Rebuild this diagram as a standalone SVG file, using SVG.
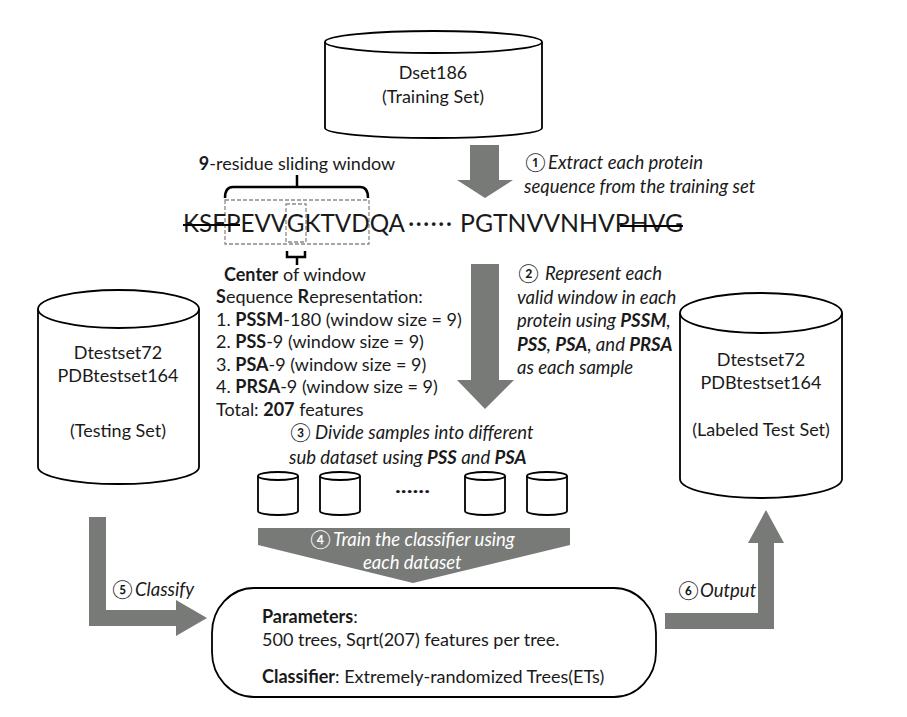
<svg xmlns="http://www.w3.org/2000/svg" width="907" height="717" viewBox="0 0 907 717">
<style>
.t{font-family:Lato,"Noto Sans CJK JP","DejaVu Sans",sans-serif;font-size:18px;fill:#1a1a1a}
.i{font-style:italic;font-size:18.5px}
.b{font-weight:bold}
.c{text-anchor:middle}
.w{fill:#ffffff}
.cyl{fill:#ffffff;stroke:#000;stroke-width:1.8}
.arr{fill:#787a77;stroke:none}
.dash{fill:none;stroke:#8a8a8a;stroke-width:1.3;stroke-dasharray:4 2}
.brk{fill:none;stroke:#000;stroke-width:2.5}
.seq{font-family:Lato,"DejaVu Sans",sans-serif;font-size:24.5px;fill:#1a1a1a}
</style>
<rect width="907" height="717" fill="#ffffff"/>

<g id="connectors">
<polygon class="arr" points="470,145 499,145 499,180 513,180 485,198 457,180 470,180"/>
<polygon class="arr" points="471,264 499,264 499,380 514,380 485,409 457,380 471,380"/>
<polygon class="arr" points="258,528 570,528 570,545 413,583 258,545"/>
<polygon class="arr" points="89,517 106,517 106,610 176,610 176,600 207,618 176,636 176,626 89,626"/>
<polygon class="arr" points="665,613 758,613 758,543 748,543 766,510 784,543 774,543 774,629 665,629"/>
<text class="t i"><tspan x="525" y="169">①</tspan><tspan x="548" y="169">Extract each protein</tspan><tspan x="524" y="193">sequence from the training set</tspan></text>
<text class="t i"><tspan x="518" y="280">②</tspan><tspan x="545" y="280">Represent each</tspan><tspan x="517" y="303.5">valid window in each</tspan><tspan x="517" y="327">protein using <tspan class="b">PSSM</tspan>,</tspan><tspan x="517" y="350.5"><tspan class="b">PSS</tspan>, <tspan class="b">PSA</tspan>, and <tspan class="b">PRSA</tspan></tspan><tspan x="517" y="374">as each sample</tspan></text>
<text class="t i"><tspan x="290" y="439">③</tspan><tspan x="315" y="439">Divide samples into different</tspan><tspan x="289" y="464">sub dataset using <tspan class="b">PSS</tspan> and <tspan class="b">PSA</tspan></tspan></text>
<text class="t i w"><tspan x="310" y="546">④</tspan><tspan x="333" y="546">Train the classifier using</tspan><tspan x="363" y="569">each dataset</tspan></text>
<text class="t i"><tspan x="112" y="596">⑤</tspan><tspan x="135" y="596">Classify</tspan></text>
<text class="t i"><tspan x="678" y="597">⑥</tspan><tspan x="700" y="597">Output</tspan></text>
</g>

<g id="training-set">
<path class="cyl" d="M325,42 V128 A108.5,10 0 0,0 542,128 V42"/>
<ellipse class="cyl" cx="433.5" cy="42" rx="108.5" ry="11"/>
<text class="t c" x="433" y="79">Dset186</text>
<text class="t c" x="433" y="103">(Training Set)</text>
</g>

<g id="sequence">
<text class="t c" x="297" y="170"><tspan class="b">9</tspan>-residue sliding window</text>
<path class="brk" d="M225,198 Q225,187 233,187 H360 Q368,187 368,198 M297,187 V175"/>
<rect class="dash" x="225" y="200" width="144" height="44"/>
<rect class="dash" x="286" y="204" width="20" height="38"/>
<text class="seq" x="183" y="232" textLength="222" lengthAdjust="spacingAndGlyphs">KSFPEVVGKTVDQA</text>
<text class="seq" x="408" y="232" textLength="44" lengthAdjust="spacing">······</text>
<text class="seq" x="460" y="232" textLength="223" lengthAdjust="spacingAndGlyphs">PGTNVVNHVPHVG</text>
<path d="M183,225 H240 M620,226 H683" stroke="#000" stroke-width="1.8"/>
<path class="brk" d="M287,251 V257 H305 V251 M297,257 V265"/>
<text class="t c" x="295" y="281"><tspan class="b">Center</tspan> of window</text>
</g>

<g id="representation">
<text class="t"><tspan x="216" y="303"><tspan class="b">S</tspan>equence <tspan class="b">R</tspan>epresentation:</tspan><tspan x="216" y="325.6">1. <tspan class="b">PSSM</tspan>-180 (window size = 9)</tspan><tspan x="216" y="348.2">2. <tspan class="b">PSS</tspan>-9 (window size = 9)</tspan><tspan x="216" y="370.8">3. <tspan class="b">PSA</tspan>-9 (window size = 9)</tspan><tspan x="216" y="393.4">4. <tspan class="b">PRSA</tspan>-9 (window size = 9)</tspan><tspan x="216" y="416">Total: <tspan class="b">207</tspan> features</tspan></text>
</g>

<g id="testing-set">
<path class="cyl" d="M38,309 V467 A80.5,17 0 0,0 199,467 V309"/>
<ellipse class="cyl" cx="118.5" cy="309" rx="80.5" ry="19"/>
<text class="t c" x="118" y="359">Dtestset72</text>
<text class="t c" x="118" y="381.5">PDBtestset164</text>
<text class="t c" x="118" y="437">(Testing Set)</text>
</g>

<g id="labeled-test-set">
<path class="cyl" d="M680,313 V479 A81,19 0 0,0 842,479 V313"/>
<ellipse class="cyl" cx="761" cy="313" rx="81" ry="20"/>
<text class="t c" x="761" y="366">Dtestset72</text>
<text class="t c" x="761" y="389">PDBtestset164</text>
<text class="t c" x="761" y="436">(Labeled Test Set)</text>
</g>

<g id="sub-datasets">
<g id="sub1"><path class="cyl" d="M258,476 V511 A20,4 0 0,0 298,511 V476"/><ellipse class="cyl" cx="278" cy="476" rx="20" ry="4"/></g>
<g id="sub2"><path class="cyl" d="M320,476 V511 A20,4 0 0,0 360,511 V476"/><ellipse class="cyl" cx="340" cy="476" rx="20" ry="4"/></g>
<text class="t b" x="395" y="493" textLength="35" lengthAdjust="spacingAndGlyphs">......</text>
<g id="sub3"><path class="cyl" d="M465,476 V511 A20,4 0 0,0 505,511 V476"/><ellipse class="cyl" cx="485" cy="476" rx="20" ry="4"/></g>
<g id="sub4"><path class="cyl" d="M527,476 V511 A20,4 0 0,0 567,511 V476"/><ellipse class="cyl" cx="547" cy="476" rx="20" ry="4"/></g>
</g>

<g id="classifier">
<rect x="212" y="588" width="444" height="109" rx="42" ry="45" fill="#ffffff" stroke="#000" stroke-width="1.8"/>
<text class="t"><tspan x="262" y="623"><tspan class="b">Parameters</tspan>:</tspan><tspan x="262" y="646">500 trees, Sqrt(207) features per tree.</tspan><tspan x="262" y="683"><tspan class="b">Classifier</tspan>: Extremely-randomized Trees(ETs)</tspan></text>
</g>
</svg>
